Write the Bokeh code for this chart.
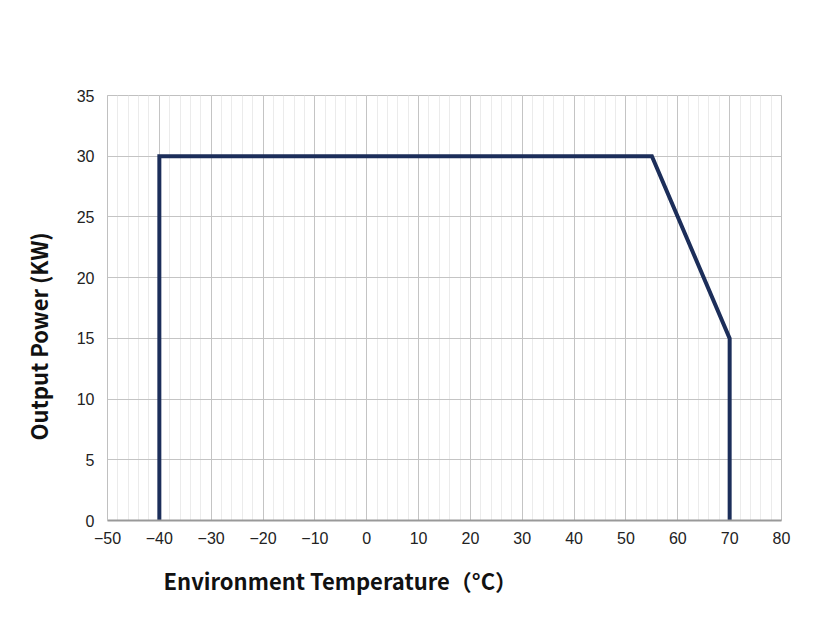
from bokeh.plotting import figure
from bokeh.models import FixedTicker, Range1d, Title
from bokeh.embed import file_html
from bokeh.resources import INLINE

temperature = [-40, -40, 55, 70, 70]
power = [0, 30, 30, 15, 0]
x_ticks = list(range(-50, 81, 10))
x_minor = list(range(-50, 81, 2))
y_ticks = list(range(0, 36, 5))
x_title = "Environment Temperature（°C）"
y_title = "Output Power (KW)"

p = figure(width=823, height=613, output_backend="svg", toolbar_location=None,
           x_range=Range1d(-50, 80), y_range=Range1d(0, 35),
           min_border_left=107, min_border_right=42, min_border_top=95, min_border_bottom=93)
p.background_fill_color = "white"
p.border_fill_color = "white"
p.outline_line_color = "#c0c0c0"
p.outline_line_width = 1

p.xaxis.ticker = FixedTicker(ticks=x_ticks, minor_ticks=x_minor)
p.yaxis.ticker = FixedTicker(ticks=y_ticks)

p.xgrid.grid_line_color = "#c4c4c4"
p.xgrid.minor_grid_line_color = "#ebebeb"
p.ygrid.grid_line_color = "#c4c4c4"

for ax in (p.xaxis[0], p.yaxis[0]):
    ax.major_tick_out = 0
    ax.major_tick_in = 0
    ax.minor_tick_out = 0
    ax.minor_tick_in = 0
    ax.major_label_text_font = "Liberation Sans"
    ax.major_label_text_font_size = "16px"
    ax.major_label_text_color = "#222222"

p.xaxis.axis_line_color = "#999999"
p.xaxis.axis_line_width = 2
p.yaxis.axis_line_color = "#c0c0c0"
p.xaxis.major_label_standoff = 11
p.yaxis.major_label_standoff = 13

p.line(temperature, power, line_color="#1c2e5a", line_width=4, line_join="miter")

t_x = Title(text=x_title, align="left", offset=56, standoff=31,
            text_font="Noto Sans CJK SC", text_font_style="bold", text_font_size="22px",
            text_color="#111111")
t_y = Title(text=y_title, align="left", offset=80, standoff=39,
            text_font="Noto Sans CJK SC", text_font_style="bold", text_font_size="22px",
            text_color="#111111")
p.add_layout(t_x, "below")
p.add_layout(t_y, "left")

open("out.html", "w").write(file_html(p, INLINE))
